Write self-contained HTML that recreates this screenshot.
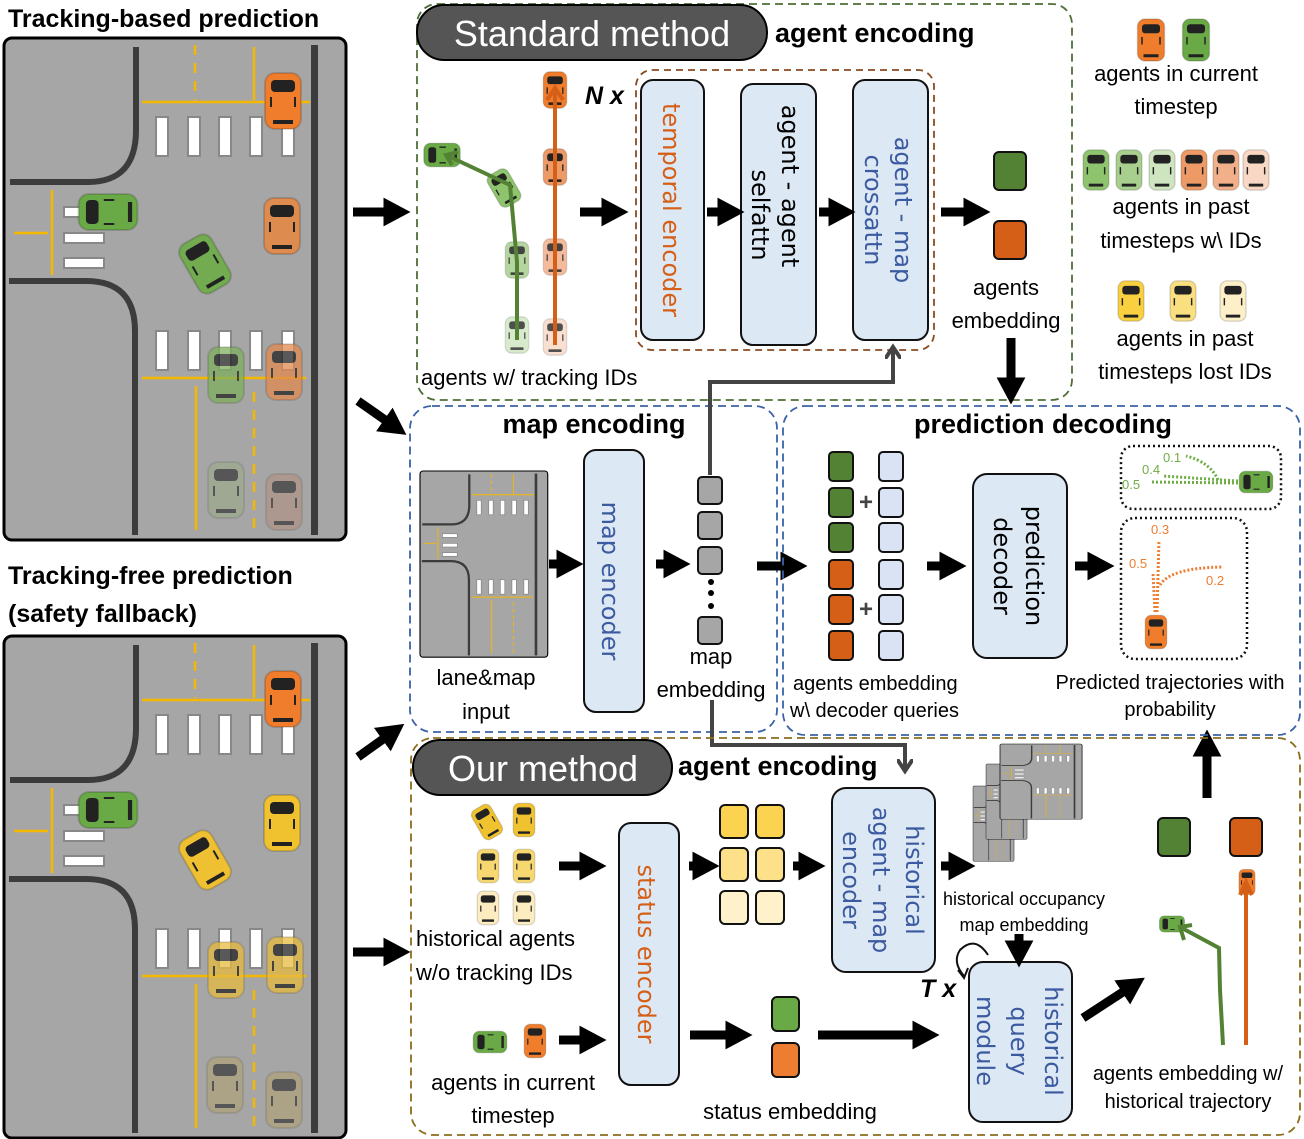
<!DOCTYPE html>
<html><head><meta charset="utf-8"><style>
body{margin:0;background:#fff}
svg{display:block}
text{font-family:"Liberation Sans",sans-serif}
.c{font-size:22px;fill:#000}
.b{font-weight:bold}
.v{font-family:"DejaVu Sans","Liberation Sans",sans-serif;font-size:24px}
</style></head><body>
<svg width="1304" height="1139" viewBox="0 0 1304 1139" xmlns="http://www.w3.org/2000/svg">
<defs>
<marker id="a" markerWidth="3" markerHeight="3.2" refX="0.5" refY="1.6" orient="auto" markerUnits="strokeWidth"><path d="M0,0L3,1.6L0,3.2z" fill="#000"/></marker>
<marker id="g" markerWidth="4" markerHeight="4" refX="3" refY="2" orient="auto" markerUnits="strokeWidth"><path d="M0,0L3,2L0,4" fill="none" stroke="#444" stroke-width="1"/></marker>
<g id="car"><rect x="-18" y="-28" width="36" height="56" rx="10" stroke="#000" stroke-opacity=".15" stroke-width="2"/><rect x="-12" y="-21" width="24" height="12" rx="4" fill="#222"/><rect x="-10" y="19" width="20" height="4" fill="#222"/><path d="M-12,-4v10M12,-4v10" stroke="#222" stroke-width="2"/></g>
<g id="road">
<rect x="4" y="0" width="342" height="502" rx="8" fill="#a6a6a6" stroke="#000" stroke-width="3"/>
<path d="M136,9V92Q136,144 88,144H10" fill="none" stroke="#3c3c3c" stroke-width="6"/>
<path d="M9,243H86Q135,243 135,293V497" fill="none" stroke="#3c3c3c" stroke-width="6"/>
<rect x="311" y="7" width="7" height="490" fill="#3c3c3c"/>
<g stroke="#f5b800" stroke-width="2.5" fill="none">
<path d="M142,64H310M142,340H306M254,9V62M196,348V492M52,152V237M14,195H48"/>
<path d="M195,7V62M254,354V492" stroke-dasharray="10,8"/>
</g>
<g fill="#fff" stroke="#888" stroke-width="2">
<rect x="156" y="79" width="12" height="39"/><rect x="188" y="79" width="12" height="39"/><rect x="219" y="79" width="12" height="39"/><rect x="250" y="79" width="12" height="39"/><rect x="282" y="79" width="12" height="39"/>
<rect x="156" y="293" width="12" height="39"/><rect x="188" y="293" width="12" height="39"/><rect x="219" y="293" width="12" height="39"/><rect x="250" y="293" width="12" height="39"/><rect x="282" y="293" width="12" height="39"/>
<rect x="64" y="169" width="40" height="10"/><rect x="64" y="195" width="40" height="10"/><rect x="64" y="220" width="40" height="10"/>
</g>
</g>
</defs>

<!-- left panels -->
<text x="8" y="27" font-size="25" class="b">Tracking-based prediction</text>
<g transform="translate(0,38)"><use href="#road"/></g>
<use href="#car" transform="translate(283,101)" fill="#ef7d2c"/>
<use href="#car" transform="translate(282,226)" fill="#de8b4f"/>
<use href="#car" transform="translate(108,212) rotate(-90) scale(1,1.05)" fill="#6aaa46"/>
<use href="#car" transform="translate(205,264) rotate(-30)" fill="#72ab50"/>
<use href="#car" transform="translate(226,375)" fill="#7faf5e" opacity=".75"/>
<use href="#car" transform="translate(284,372)" fill="#e08a50" opacity=".75"/>
<use href="#car" transform="translate(226,490)" fill="#99aa88" opacity=".6"/>
<use href="#car" transform="translate(284,502)" fill="#b09080" opacity=".6"/>

<text x="8" y="584" font-size="25" class="b">Tracking-free prediction</text>
<text x="8" y="622" font-size="25" class="b">(safety fallback)</text>
<g transform="translate(0,636)"><use href="#road"/></g>
<use href="#car" transform="translate(283,699)" fill="#ef7d2c"/>
<use href="#car" transform="translate(282,823)" fill="#f0c230"/>
<use href="#car" transform="translate(108,810) rotate(-90) scale(1,1.05)" fill="#6aaa46"/>
<use href="#car" transform="translate(205,860) rotate(-30)" fill="#eec032"/>
<use href="#car" transform="translate(226,970)" fill="#e6bb40" opacity=".75"/>
<use href="#car" transform="translate(285,965)" fill="#e6bb40" opacity=".75"/>
<use href="#car" transform="translate(225,1085)" fill="#b0a070" opacity=".6"/>
<use href="#car" transform="translate(284,1100)" fill="#b0a070" opacity=".6"/>

<!-- big arrows from panels -->
<g stroke="#000" stroke-width="9" marker-end="url(#a)" fill="none">
<line x1="353" y1="212" x2="388" y2="212"/>
<line x1="358" y1="401" x2="388" y2="422"/>
<line x1="358" y1="757" x2="386" y2="737"/>
<line x1="353" y1="952" x2="388" y2="952"/>
</g>

<!-- Standard method box -->
<rect x="417" y="4" width="655" height="396" rx="20" fill="none" stroke="#4e6e36" stroke-width="1.8" stroke-dasharray="8,5"/>
<rect x="417" y="5" width="350" height="55" rx="27" fill="#555" stroke="#000" stroke-width="2"/>
<text x="592" y="46" font-size="36" fill="#fff" text-anchor="middle">Standard method</text>
<text x="775" y="42" font-size="27" class="b">agent encoding</text>
<text x="585" y="104" font-size="25" class="b" font-style="italic">N x</text>
<rect x="636" y="70" width="298" height="280" rx="16" fill="none" stroke="#8a4a20" stroke-width="1.8" stroke-dasharray="7,5"/>
<rect x="641" y="80" width="63" height="260" rx="12" fill="#dde8f5" stroke="#111" stroke-width="2"/>
<rect x="741" y="84" width="75" height="261" rx="12" fill="#dde8f5" stroke="#111" stroke-width="2"/>
<rect x="853" y="80" width="75" height="260" rx="12" fill="#dde8f5" stroke="#111" stroke-width="2"/>
<text class="v" transform="translate(663,210) rotate(90)" text-anchor="middle" fill="#d55f16">temporal encoder</text>
<text class="v" transform="translate(782,186) rotate(90)" text-anchor="middle" fill="#000">agent - agent</text>
<text class="v" transform="translate(752,215) rotate(90)" text-anchor="middle" fill="#000">selfattn</text>
<text class="v" transform="translate(895,210) rotate(90)" text-anchor="middle" fill="#3b5aa0">agent - map</text>
<text class="v" transform="translate(865,210) rotate(90)" text-anchor="middle" fill="#3b5aa0">crossattn</text>
<!-- tracked agents -->
<use href="#car" transform="translate(517,335) scale(.65)" fill="#cfe5c0" opacity=".8"/>
<use href="#car" transform="translate(517,260) scale(.65)" fill="#a8cf8e" opacity=".85"/>
<use href="#car" transform="translate(504,188) rotate(-30) scale(.65)" fill="#8fc46f"/>
<use href="#car" transform="translate(442,155) rotate(-90) scale(.65)" fill="#6aaa46"/>
<use href="#car" transform="translate(555,337) scale(.65)" fill="#f8d8c4" opacity=".8"/>
<use href="#car" transform="translate(555,257) scale(.65)" fill="#f2b08a" opacity=".85"/>
<use href="#car" transform="translate(555,167) scale(.65)" fill="#ee9a66"/>
<use href="#car" transform="translate(555,90) scale(.65)" fill="#ef7d2c"/>
<path d="M517,340V262L510,185L446,155" fill="none" stroke="#548235" stroke-width="4"/>
<path d="M458,152L446,155L452,165" fill="none" stroke="#548235" stroke-width="4"/>
<path d="M555,345V88M547,100L555,88L563,100" fill="none" stroke="#d55f16" stroke-width="4"/>
<text x="421" y="385" class="c">agents w/ tracking IDs</text>
<g stroke="#000" stroke-width="9" marker-end="url(#a)">
<line x1="580" y1="212" x2="606" y2="212"/>
<line x1="707" y1="212" x2="722" y2="212"/>
<line x1="819" y1="212" x2="833" y2="212"/>
<line x1="941" y1="212" x2="968" y2="212"/>
<line x1="1011" y1="338" x2="1011" y2="382"/>
</g>
<rect x="994" y="152" width="32" height="38" rx="5" fill="#548235" stroke="#111" stroke-width="2"/>
<rect x="994" y="221" width="32" height="38" rx="5" fill="#d55f16" stroke="#111" stroke-width="2"/>
<text x="1006" y="295" class="c" text-anchor="middle">agents</text>
<text x="1006" y="328" class="c" text-anchor="middle">embedding</text>

<!-- legend -->
<use href="#car" transform="translate(1151,40) scale(.75)" fill="#ef7d2c"/>
<use href="#car" transform="translate(1196,40) scale(.75)" fill="#6aaa46"/>
<text x="1176" y="81" class="c" text-anchor="middle">agents in current</text>
<text x="1176" y="114" class="c" text-anchor="middle">timestep</text>
<use href="#car" transform="translate(1096,170) scale(.72)" fill="#8fc46f"/>
<use href="#car" transform="translate(1129,170) scale(.72)" fill="#a8cf8e"/>
<use href="#car" transform="translate(1162,170) scale(.72)" fill="#cfe5c0"/>
<use href="#car" transform="translate(1194,170) scale(.72)" fill="#ee9a66"/>
<use href="#car" transform="translate(1226,170) scale(.72)" fill="#f2b08a"/>
<use href="#car" transform="translate(1256,170) scale(.72)" fill="#f8d8c4"/>
<text x="1181" y="214" class="c" text-anchor="middle">agents in past</text>
<text x="1181" y="248" class="c" text-anchor="middle">timesteps w\ IDs</text>
<use href="#car" transform="translate(1131,301) scale(.72)" fill="#f8d040"/>
<use href="#car" transform="translate(1183,301) scale(.72)" fill="#fadf80"/>
<use href="#car" transform="translate(1233,301) scale(.72)" fill="#fdf0c8"/>
<text x="1185" y="346" class="c" text-anchor="middle">agents in past</text>
<text x="1185" y="379" class="c" text-anchor="middle">timesteps lost IDs</text>

<!-- map encoding -->
<rect x="410" y="406" width="367" height="326" rx="22" fill="none" stroke="#3b62a8" stroke-width="1.8" stroke-dasharray="8,5"/>
<text x="594" y="433" font-size="27" class="b" text-anchor="middle">map encoding</text>
<g transform="translate(420,471) scale(0.3735,0.371) translate(-4,0)"><use href="#road"/></g>
<text x="486" y="685" class="c" text-anchor="middle">lane&amp;map</text>
<text x="486" y="719" class="c" text-anchor="middle">input</text>
<rect x="584" y="450" width="60" height="262" rx="12" fill="#dde8f5" stroke="#111" stroke-width="2"/>
<text class="v" transform="translate(602,581) rotate(90)" text-anchor="middle" fill="#3b5aa0" font-size="28">map encoder</text>
<g fill="#a6a6a6" stroke="#111" stroke-width="2">
<rect x="698" y="477" width="24" height="27" rx="4"/><rect x="698" y="512" width="24" height="27" rx="4"/><rect x="698" y="547" width="24" height="27" rx="4"/><rect x="698" y="617" width="24" height="27" rx="4"/>
</g>
<circle cx="711" cy="582" r="3"/><circle cx="711" cy="593" r="3"/><circle cx="711" cy="606" r="3"/>
<text x="711" y="664" class="c" text-anchor="middle">map</text>
<text x="711" y="697" class="c" text-anchor="middle">embedding</text>
<g stroke="#000" stroke-width="9" marker-end="url(#a)">
<line x1="549" y1="564" x2="561" y2="564"/>
<line x1="656" y1="564" x2="668" y2="564"/>
<line x1="757" y1="566" x2="785" y2="566"/>
<line x1="927" y1="566" x2="944" y2="566"/>
<line x1="1075" y1="566" x2="1092" y2="566"/>
<line x1="1207" y1="798" x2="1207" y2="752"/>
</g>
<path d="M710,475V382H893V347" fill="none" stroke="#444" stroke-width="4" marker-end="url(#g)"/>
<path d="M712,700V745H905V771" fill="none" stroke="#444" stroke-width="4" marker-end="url(#g)"/>

<!-- prediction decoding -->
<rect x="783" y="406" width="517" height="329" rx="22" fill="none" stroke="#3b62a8" stroke-width="1.8" stroke-dasharray="8,5"/>
<text x="1043" y="433" font-size="27" class="b" text-anchor="middle">prediction decoding</text>
<g stroke="#111" stroke-width="2">
<rect x="829" y="452" width="24" height="29" rx="4" fill="#548235"/><rect x="829" y="488" width="24" height="29" rx="4" fill="#548235"/><rect x="829" y="523" width="24" height="29" rx="4" fill="#548235"/>
<rect x="829" y="560" width="24" height="29" rx="4" fill="#d55f16"/><rect x="829" y="595" width="24" height="29" rx="4" fill="#d55f16"/><rect x="829" y="631" width="24" height="29" rx="4" fill="#d55f16"/>
<g fill="#dae3f3"><rect x="879" y="452" width="24" height="29" rx="4"/><rect x="879" y="488" width="24" height="29" rx="4"/><rect x="879" y="523" width="24" height="29" rx="4"/><rect x="879" y="560" width="24" height="29" rx="4"/><rect x="879" y="595" width="24" height="29" rx="4"/><rect x="879" y="631" width="24" height="29" rx="4"/></g>
</g>
<text x="866" y="510" font-size="24" class="b" text-anchor="middle" fill="#444">+</text>
<text x="866" y="617" font-size="24" class="b" text-anchor="middle" fill="#444">+</text>
<text x="793" y="690" font-size="20">agents  embedding</text>
<text x="790" y="717" font-size="20">w\ decoder queries</text>
<rect x="973" y="474" width="94" height="184" rx="14" fill="#dde8f5" stroke="#111" stroke-width="2"/>
<text class="v" transform="translate(1026,566) rotate(90)" text-anchor="middle" font-size="26">prediction</text>
<text class="v" transform="translate(994,566) rotate(90)" text-anchor="middle" font-size="26">decoder</text>
<rect x="1121" y="446" width="160" height="63" rx="12" fill="none" stroke="#111" stroke-width="2.5" stroke-dasharray="2,3"/>
<rect x="1121" y="518" width="126" height="141" rx="14" fill="none" stroke="#111" stroke-width="2.5" stroke-dasharray="2,3"/>
<g fill="none" stroke="#70ad47" stroke-width="3" stroke-dasharray="2,2">
<path d="M1238,483L1150,482"/><path d="M1238,481L1163,476"/><path d="M1218,480Q1210,462 1186,456"/>
</g>
<use href="#car" transform="translate(1256,482) rotate(-90) scale(.6)" fill="#6aaa46"/>
<text x="1163" y="462" font-size="13" fill="#70ad47">0.1</text>
<text x="1142" y="474" font-size="13" fill="#70ad47">0.4</text>
<text x="1122" y="489" font-size="13" fill="#70ad47">0.5</text>
<g fill="none" stroke="#ed7d31" stroke-width="3" stroke-dasharray="2,2">
<path d="M1155,612L1153,573"/><path d="M1157,612L1159,540"/><path d="M1160,585Q1170,568 1222,567"/>
</g>
<use href="#car" transform="translate(1156,632) scale(.6)" fill="#ef7d2c"/>
<text x="1151" y="534" font-size="13" fill="#ed7d31">0.3</text>
<text x="1129" y="568" font-size="13" fill="#ed7d31">0.5</text>
<text x="1206" y="585" font-size="13" fill="#ed7d31">0.2</text>
<text x="1170" y="689" font-size="20" text-anchor="middle">Predicted trajectories with</text>
<text x="1170" y="716" font-size="20" text-anchor="middle">probability</text>

<!-- Our method -->
<rect x="411" y="738" width="889" height="397" rx="22" fill="none" stroke="#8b6d1b" stroke-width="1.8" stroke-dasharray="8,5"/>
<rect x="413" y="740" width="259" height="55" rx="27" fill="#555" stroke="#000" stroke-width="2"/>
<text x="543" y="781" font-size="36" fill="#fff" text-anchor="middle">Our method</text>
<text x="678" y="775" font-size="27" class="b">agent encoding</text>
<use href="#car" transform="translate(487,822) rotate(-30) scale(.6)" fill="#f0c230"/>
<use href="#car" transform="translate(524,820) scale(.6)" fill="#f0c230"/>
<use href="#car" transform="translate(488,866) scale(.6)" fill="#f7d770"/>
<use href="#car" transform="translate(524,866) scale(.6)" fill="#f7d770"/>
<use href="#car" transform="translate(488,908) scale(.6)" fill="#fcecc0"/>
<use href="#car" transform="translate(524,908) scale(.6)" fill="#fcecc0"/>
<text x="416" y="946" class="c">historical agents</text>
<text x="416" y="980" class="c">w/o tracking IDs</text>
<use href="#car" transform="translate(490,1042) rotate(-90) scale(.6)" fill="#6aaa46"/>
<use href="#car" transform="translate(535,1041) scale(.6)" fill="#ef7d2c"/>
<text x="513" y="1090" class="c" text-anchor="middle">agents in current</text>
<text x="513" y="1123" class="c" text-anchor="middle">timestep</text>
<rect x="619" y="823" width="60" height="262" rx="12" fill="#dde8f5" stroke="#111" stroke-width="2"/>
<text class="v" transform="translate(638,954) rotate(90)" text-anchor="middle" fill="#d55f16" font-size="25">status encoder</text>
<g stroke="#111" stroke-width="2">
<rect x="720" y="805" width="28" height="33" rx="5" fill="#fcd351"/><rect x="756" y="805" width="28" height="33" rx="5" fill="#fcd351"/>
<rect x="720" y="848" width="28" height="33" rx="5" fill="#fde08a"/><rect x="756" y="848" width="28" height="33" rx="5" fill="#fde08a"/>
<rect x="720" y="891" width="28" height="33" rx="5" fill="#fff1cc"/><rect x="756" y="891" width="28" height="33" rx="5" fill="#fff1cc"/>
<rect x="772" y="997" width="27" height="34" rx="5" fill="#6aaa46"/><rect x="772" y="1043" width="27" height="34" rx="5" fill="#ed7d31"/>
</g>
<rect x="832" y="788" width="103" height="184" rx="14" fill="#dde8f5" stroke="#111" stroke-width="2"/>
<text class="v" transform="translate(906,880) rotate(90)" text-anchor="middle" fill="#3b5aa0" font-size="24">historical</text>
<text class="v" transform="translate(873,880) rotate(90)" text-anchor="middle" fill="#3b5aa0" font-size="24">agent - map</text>
<text class="v" transform="translate(843,880) rotate(90)" text-anchor="middle" fill="#3b5aa0" font-size="24">encoder</text>
<g transform="translate(973,786) scale(0.12,0.15) translate(-4,0)"><use href="#road"/></g>
<g transform="translate(986,764) scale(0.12,0.15) translate(-4,0)"><use href="#road"/></g>
<g transform="translate(1000,744) scale(0.24,0.15) translate(-4,0)"><use href="#road"/></g>
<text x="1024" y="905" font-size="18" text-anchor="middle">historical occupancy</text>
<text x="1024" y="931" font-size="18" text-anchor="middle">map embedding</text>
<rect x="969" y="962" width="103" height="160" rx="14" fill="#dde8f5" stroke="#111" stroke-width="2"/>
<text class="v" transform="translate(1045,1041) rotate(90)" text-anchor="middle" fill="#3b5aa0" font-size="24">historical</text>
<text class="v" transform="translate(1011,1041) rotate(90)" text-anchor="middle" fill="#3b5aa0" font-size="24">query</text>
<text class="v" transform="translate(977,1041) rotate(90)" text-anchor="middle" fill="#3b5aa0" font-size="24">module</text>
<text x="920" y="997" font-size="25" class="b" font-style="italic">T x</text>
<path d="M988,955Q975,935 960,950Q952,962 964,976" fill="none" stroke="#111" stroke-width="2"/>
<path d="M958,970L964,978L968,968" fill="none" stroke="#111" stroke-width="2"/>
<g stroke="#000" stroke-width="9" marker-end="url(#a)">
<line x1="559" y1="866" x2="584" y2="866"/>
<line x1="559" y1="1040" x2="584" y2="1040"/>
<line x1="689" y1="866" x2="697" y2="866"/>
<line x1="793" y1="866" x2="803" y2="866"/>
<line x1="941" y1="866" x2="953" y2="866"/>
<line x1="690" y1="1035" x2="730" y2="1035"/>
<line x1="818" y1="1035" x2="917" y2="1035"/>
<line x1="1019" y1="934" x2="1019" y2="945"/>
<line x1="1083" y1="1018" x2="1126" y2="990"/>
</g>
<rect x="1158" y="818" width="32" height="38" rx="5" fill="#548235" stroke="#111" stroke-width="2"/>
<rect x="1230" y="818" width="32" height="38" rx="5" fill="#d55f16" stroke="#111" stroke-width="2"/>
<use href="#car" transform="translate(1247,882) scale(.45)" fill="#ef7d2c"/>
<use href="#car" transform="translate(1172,924) rotate(-90) scale(.45)" fill="#6aaa46"/>
<path d="M1246,1045V882M1240,895L1246,882L1252,895" fill="none" stroke="#d55f16" stroke-width="4"/>
<path d="M1223,1045L1220,990L1219,948L1180,927M1184,940L1180,927L1192,925" fill="none" stroke="#548235" stroke-width="4"/>
<text x="1188" y="1080" font-size="20" text-anchor="middle">agents embedding w/</text>
<text x="1188" y="1108" font-size="20" text-anchor="middle">historical trajectory</text>
<text x="790" y="1119" class="c" text-anchor="middle">status embedding</text>
</svg>
</body></html>
